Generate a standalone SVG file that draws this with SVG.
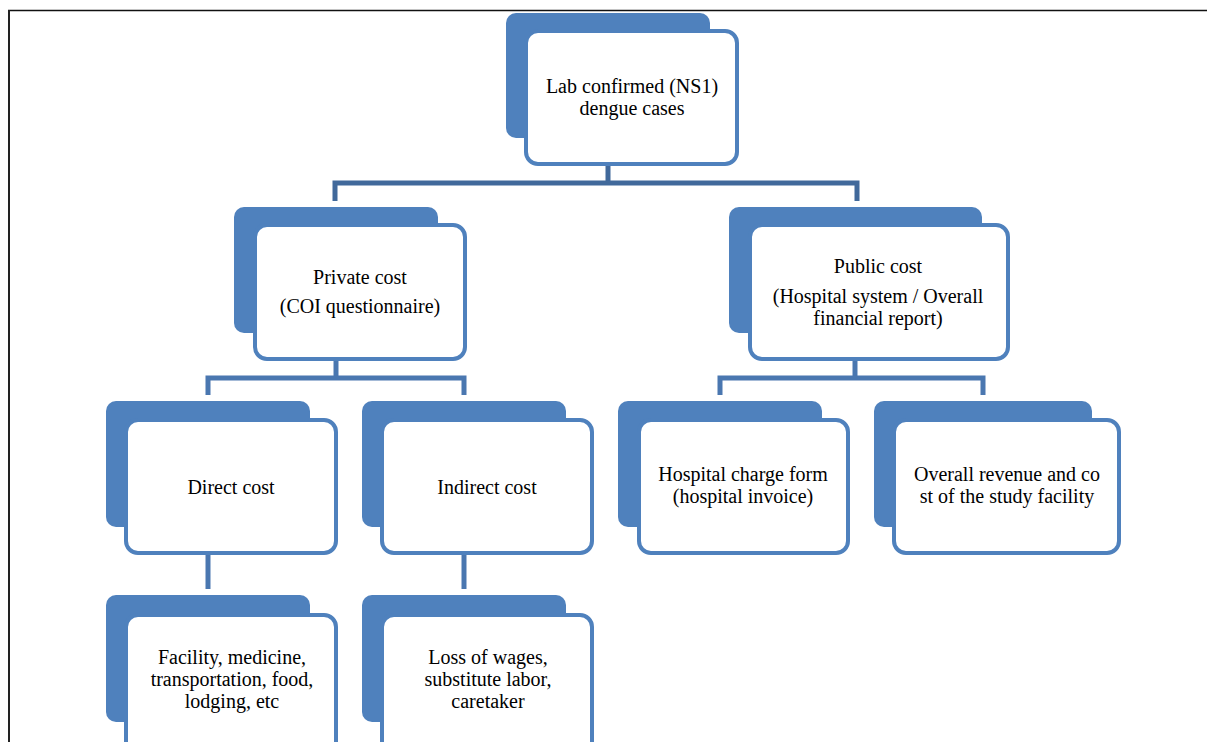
<svg xmlns="http://www.w3.org/2000/svg" width="1207" height="742" viewBox="0 0 1207 742">
<style>
.back{fill:#4f81bd}
.front{fill:#ffffff;stroke:#4f81bd;stroke-width:4}
.t{font-family:"Liberation Serif","Times New Roman",serif;font-size:20px;fill:#000;text-anchor:middle}
.c1{fill:none;stroke:#41699b;stroke-width:5}
.c2{fill:none;stroke:#4a77b0;stroke-width:5}
</style>
<rect x="0" y="0" width="1207" height="742" fill="#ffffff"/>
<g id="frame">
<line x1="8" y1="10.5" x2="1207" y2="10.5" stroke="#111" stroke-width="1.5"/>
<line x1="9" y1="10" x2="9" y2="742" stroke="#222" stroke-width="2"/>
</g>
<g id="connectors">
<polyline class="c1" points="608,166 608,183"/>
<polyline class="c1" points="335,201 335,183 857,183 857,201"/>
<polyline class="c2" points="336,361 336,378"/>
<polyline class="c2" points="208,395 208,378 464,378 464,395"/>
<polyline class="c2" points="855,361 855,378"/>
<polyline class="c2" points="720,395 720,378 983,378 983,395"/>
<polyline class="c2" points="208,555 208,589"/>
<polyline class="c2" points="464,555 464,589"/>
</g>
<g id="n-lab">
<rect class="back" x="506" y="13" width="204" height="125" rx="10"/>
<rect class="front" x="526" y="31" width="211" height="133" rx="12"/>
<text class="t" x="632" y="93">Lab confirmed (NS1)</text>
<text class="t" x="632" y="115">dengue cases</text>
</g>
<g id="n-private">
<rect class="back" x="234" y="207" width="204" height="126" rx="10"/>
<rect class="front" x="255" y="225" width="210" height="134" rx="12"/>
<text class="t" x="360" y="284">Private cost</text>
<text class="t" x="360" y="313">(COI questionnaire)</text>
</g>
<g id="n-public">
<rect class="back" x="729" y="207" width="253" height="126" rx="10"/>
<rect class="front" x="750" y="225" width="258" height="134" rx="12"/>
<text class="t" x="878" y="273">Public cost</text>
<text class="t" x="878" y="303">(Hospital system / Overall</text>
<text class="t" x="878" y="325">financial report)</text>
</g>
<g id="n-direct">
<rect class="back" x="106" y="401" width="204" height="126" rx="10"/>
<rect class="front" x="126" y="420" width="210" height="133" rx="12"/>
<text class="t" x="231" y="494">Direct cost</text>
</g>
<g id="n-indirect">
<rect class="back" x="362" y="401" width="204" height="126" rx="10"/>
<rect class="front" x="382" y="420" width="210" height="133" rx="12"/>
<text class="t" x="487" y="494">Indirect cost</text>
</g>
<g id="n-hospital">
<rect class="back" x="618" y="401" width="204" height="126" rx="10"/>
<rect class="front" x="639" y="420" width="209" height="133" rx="12"/>
<text class="t" x="743" y="481">Hospital charge form</text>
<text class="t" x="743" y="503">(hospital invoice)</text>
</g>
<g id="n-overall">
<rect class="back" x="874" y="401" width="218" height="126" rx="10"/>
<rect class="front" x="894" y="420" width="225" height="133" rx="12"/>
<text class="t" x="1007" y="481">Overall revenue and co</text>
<text class="t" x="1007" y="503">st of the study facility</text>
</g>
<g id="n-facility">
<rect class="back" x="106" y="595" width="204" height="127" rx="10"/>
<rect class="front" x="126" y="615" width="210" height="140" rx="12"/>
<text class="t" x="232" y="664">Facility, medicine,</text>
<text class="t" x="232" y="686">transportation, food,</text>
<text class="t" x="232" y="708">lodging, etc</text>
</g>
<g id="n-loss">
<rect class="back" x="362" y="595" width="204" height="127" rx="10"/>
<rect class="front" x="382" y="615" width="210" height="140" rx="12"/>
<text class="t" x="488" y="664">Loss of wages,</text>
<text class="t" x="488" y="686">substitute labor,</text>
<text class="t" x="488" y="708">caretaker</text>
</g>
</svg>
